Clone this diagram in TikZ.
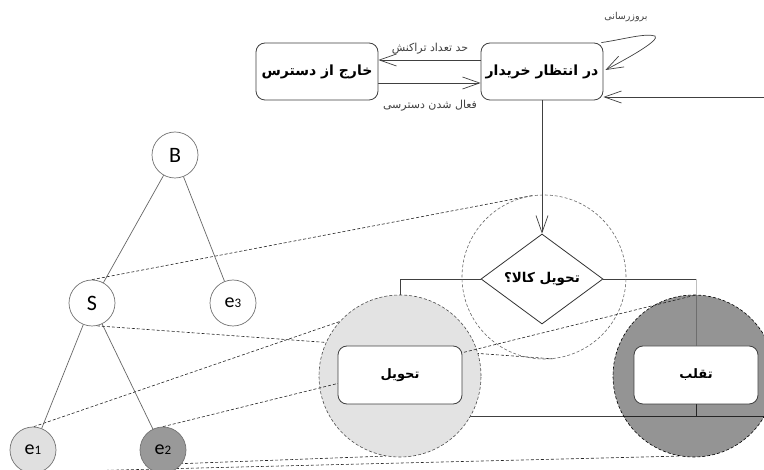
\documentclass[tikz,border=0pt]{standalone}
\usepackage{fontspec}
\usetikzlibrary{arrows.meta,shapes.geometric,calc}
\TeXXeTstate=1
\newfontfamily\fa[Script=Arabic]{DejaVu Sans}
\newfontfamily\calfont{Carlito}
\definecolor{lcfill}{HTML}{E3E3E3}
\definecolor{eonefill}{HTML}{E0E0E0}
\definecolor{etwofill}{HTML}{999999}
\pgfdeclarelayer{bg}
\pgfdeclarelayer{over}
\pgfdeclarelayer{fg}
\pgfsetlayers{bg,main,over,fg}
\tikzset{
  statebox/.style={draw=black!75, line width=0.8pt, rounded corners=9pt, fill=white,
    minimum width=122pt, minimum height=57pt, inner sep=0pt,
    font=\fa\bfseries\fontsize{14}{16}\selectfont},
  tnode/.style={circle, draw=black!55, line width=0.7pt, fill=white, minimum size=46pt,
    inner sep=0pt, font=\calfont\fontsize{22}{24}\selectfont},
  enode/.style={tnode, font=\calfont\fontsize{20}{22}\selectfont},
  dline/.style={densely dashed, draw=black!85, line width=0.6pt},
  conn/.style={draw=black!75, line width=0.7pt},
  tedge/.style={draw=black!60, line width=0.7pt},
  barb/.style={-{Straight Barb[length=17pt,width=12pt]}},
  lab/.style={font=\fa\fontsize{11}{13}\selectfont, text=black!75, inner sep=1pt},
}
\begin{document}
\begin{tikzpicture}[x=1pt,y=-1pt]
\useasboundingbox (0,0) rectangle (764,470);
% ---------- foreground nodes
\begin{pgfonlayer}{fg}
\node[statebox] (box1) at (317,71.5) {\beginR خارج از دسترس\endR};
\node[statebox] (box2) at (542,71.5) {\beginR در انتظار خریدار\endR};
\node[statebox, minimum width=124pt, minimum height=58pt,
  font=\fa\bfseries\fontsize{13}{15}\selectfont] (box3) at (400,375) {\beginR تحویل\endR};
\node[statebox, minimum width=124pt, minimum height=58pt,
  font=\fa\bfseries\fontsize{13}{15}\selectfont] (box4) at (696,375) {\beginR تقلب\endR};
\node[diamond, draw=black!80, line width=0.8pt, fill=white, minimum width=122pt,
  minimum height=90pt, inner sep=0pt, font=\fa\bfseries\fontsize{13.5}{15}\selectfont]
  (dia) at (542,279) {\beginR تحویل کالا؟\endR};
\node[tnode] (B) at (175,155) {B};
\node[tnode] (S) at (92,303) {S};
\node[enode] (e3) at (233,303) {e{\fontsize{13}{14}\selectfont 3}};
\node[enode, fill=eonefill] (e1) at (33,450) {e{\fontsize{13}{14}\selectfont 1}};
\node[enode, fill=etwofill] (e2) at (163,450) {e{\fontsize{13}{14}\selectfont 2}};
\node[lab] (l1) at (430,49) {\beginR حد تعداد تراکنش\endR};
\node[lab] (l2) at (430,106) {\beginR فعال شدن دسترسی\endR};
\node[lab, font=\fa\fontsize{9.5}{11}\selectfont] (l3) at (626,17) {\beginR بروزرسانی\endR};
\end{pgfonlayer}
% ---------- highlight circles
\node[circle, inner sep=0pt, minimum size=162pt, fill=lcfill, draw=black!70,
  densely dashed, line width=0.6pt] (lc) at (400,376) {};
\node[circle, inner sep=0pt, minimum size=162pt, fill=black, fill opacity=0.42,
  draw=black, draw opacity=1, densely dashed, line width=0.6pt] (dc) at (694,376) {};
\node[circle, inner sep=0pt, minimum size=164pt, draw=black!60,
  densely dashed, line width=0.6pt] (kc) at (544,277) {};
% ---------- top state machine
\coordinate (rin) at (764,97);
\coordinate (looptip) at (655,36);
\draw[conn, barb] ([yshift=11.5pt]box2.west) -- ([yshift=11.5pt]box1.east);
\draw[conn, barb] ([yshift=-11.5pt]box1.east) -- ([yshift=-11.5pt]box2.west);
\draw[conn, barb] (rin) -- (rin -| box2.east);
\draw[conn, barb] ([xshift=-2pt]box2.north east)
  .. controls (625,39) and (645,33) .. (looptip)
  .. controls (660,40) and (632,56) .. ([xshift=2pt,yshift=1.5pt]box2.east);
\draw[conn, barb] (box2.south) -- (dia.north);
% ---------- background lines
\begin{pgfonlayer}{bg}
\fill[white] (0,0) rectangle (764,470);
\coordinate (rout) at (764,416);
\draw[conn] (dia.west) -| (box3.north);
\draw[conn] (dia.east) -- (box4.north |- dia.east);
\draw[conn, draw=black!25] (box4.north |- dia.east) -- (box4.north);
\draw[conn] (box3.south) |- (rout);
\draw[conn] (box4.south) -- (box4.south |- rout);
\draw[tedge] (B) -- (S);
\draw[tedge] (B) -- (e3);
\draw[tedge] (S) -- (e1);
\draw[tedge] (S) -- (e2);
\draw[dline] (S.90) -- (kc.98);
\draw[dline] (S.-78) -- (kc.-84);
\draw[dline] (e1.88) -- (lc.138);
\draw[dline] (e2.-140) -- (lc.-100);
\draw[dline] (e1.-70) -- (dc.-100);
\end{pgfonlayer}
\begin{pgfonlayer}{over}
\draw[dline] (e2.90) -- (dc.88);
\end{pgfonlayer}
\end{tikzpicture}
\end{document}
